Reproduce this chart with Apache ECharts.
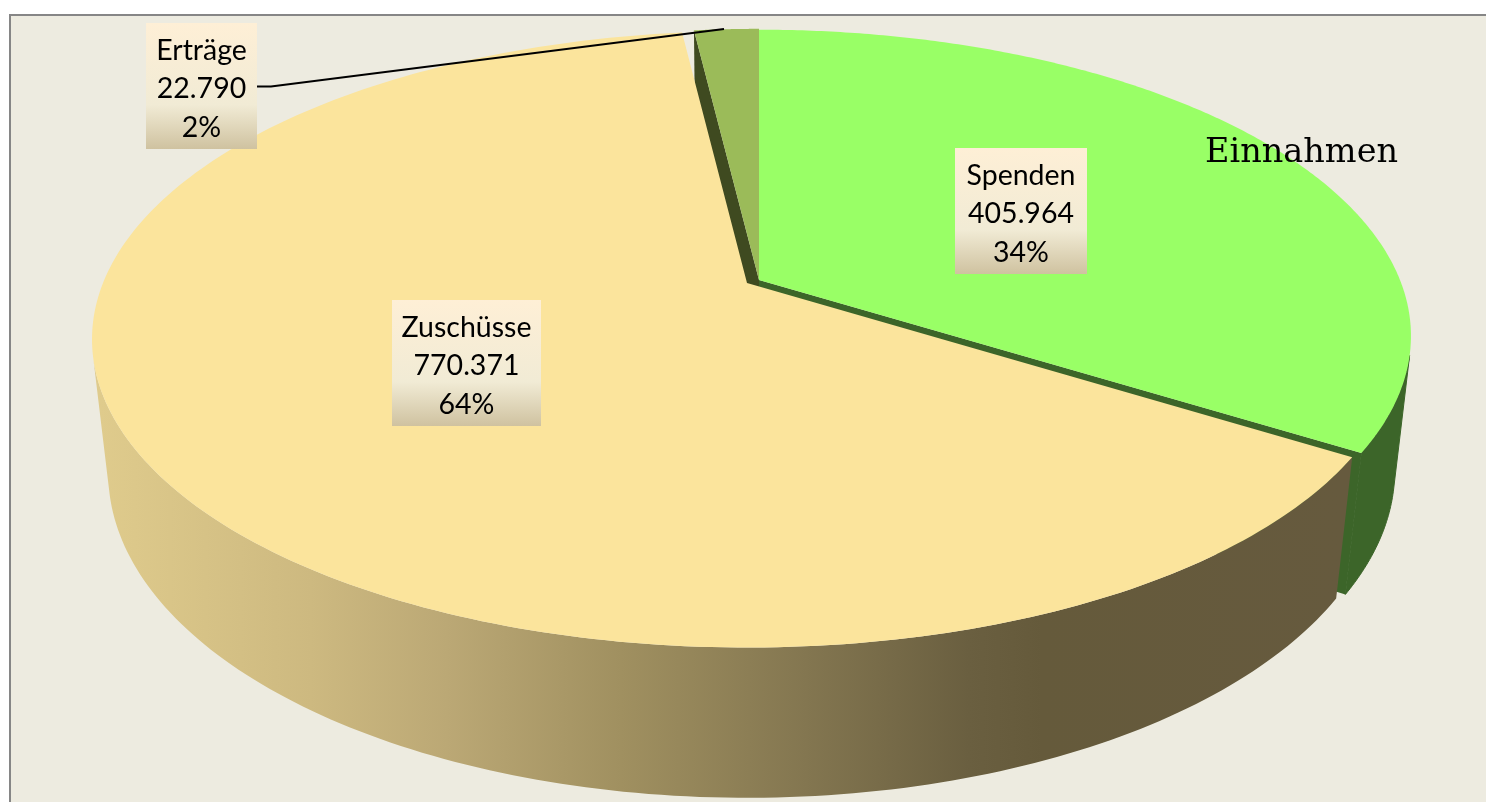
<!DOCTYPE html>
<html>
<head>
<meta charset="utf-8">
<style>html,body{margin:0;padding:0;background:#fff}#c{width:1486px;height:802px}</style>
<script src="https://cdn.jsdelivr.net/npm/echarts@6/dist/echarts.min.js"></script>
</head>
<body>
<div id="c"></div>
<script>
// ---- data ----
const categories = ['Spenden', 'Zuschüsse', 'Erträge'];
const seriesValues = [405964, 770371, 22790];
const titleText = 'Einnahmen';

// ---- styling / layout, by category order ----
const topColors = ['#99FF66', '#FBE49C', '#9BBB59'];
const wallColors = ['#3C6529', '#FBE49C', '#3F4A20'];
const apexes = [[759, 280], [747, 283], [759, 280]];
const radiiX = [641, 644, 645];
const radiiY = [296, 298, 297];
const labelBoxes = [[955, 148, 132, 126], [392, 300, 149, 126], [146, 23, 111, 126]];
const leaderPoints = [[257, 86.5], [271, 86.5], [724, 29]];
const K = 0.1825, E = 0.0246, H = 135.5;   // perspective and thickness
const LINE_H = 38.5;

const total = seriesValues.reduce((a, b) => a + b, 0);
const fmt = v => String(v).replace(/\B(?=(\d{3})+$)/g, '.');

function upperRim(i, t, r) {
  r = r === undefined ? 1 : r;
  const u = r * Math.sin(t), v = r * Math.cos(t), w = 1 + K * v;
  return [apexes[i][0] + radiiX[i] * u / w, apexes[i][1] - radiiY[i] * v / w];
}
function lowerRim(i, t, r) {
  r = r === undefined ? 1 : r;
  const u = r * Math.sin(t), v = r * Math.cos(t), w = 1 + K * v + E;
  return [apexes[i][0] + radiiX[i] * u / w, apexes[i][1] + (H - radiiY[i] * v) / w];
}
function sweep(fn, i, a, b) {
  const pts = [], n = 240;
  for (let s = 0; s <= n; s++) pts.push(fn(i, a + (b - a) * s / n));
  return pts;
}
function frontArc(i, a, b) {           // front-facing part of the rim
  const n = 240, ts = [];
  for (let s = 0; s <= n; s++) {
    const t = a + (b - a) * s / n, d = 0.001;
    const p0 = upperRim(i, t - d), p1 = upperRim(i, t + d), q = lowerRim(i, t), p = upperRim(i, t);
    const cross = (p1[0] - p0[0]) * (q[1] - p[1]) - (p1[1] - p0[1]) * (q[0] - p[0]);
    if (cross < 0) ts.push(t);
  }
  if (ts.length < 2) return null;
  return ts.map(t => upperRim(i, t)).concat(ts.slice().reverse().map(t => lowerRim(i, t)));
}
const sideFill = {
  type: 'linear', x: 100, y: 0, x2: 1340, y2: 0, global: true,
  colorStops: [
    { offset: 0, color: '#DFCB8C' },
    { offset: 0.17, color: '#CDB980' },
    { offset: 0.28, color: '#BBA875' },
    { offset: 0.42, color: '#A09060' },
    { offset: 0.57, color: '#837650' },
    { offset: 0.70, color: '#6A5F40' },
    { offset: 0.76, color: '#655A3B' },
    { offset: 1, color: '#665A3E' }
  ]
};
const labelFill = {
  type: 'linear', x: 0, y: 0, x2: 0, y2: 1,
  colorStops: [
    { offset: 0, color: '#FEEFD6' },
    { offset: 0.65, color: '#F1EBD5' },
    { offset: 1, color: '#CFC2A0' }
  ]
};
// drawing depth of each slice
const depth = [1, 20, 10];

function renderItem(params, api) {
  const i = params.dataIndex;
  let before = 0;
  for (let j = 0; j < i; j++) before += seriesValues[j];
  const value = api.value(0);
  const a = before / total * 2 * Math.PI, b = (before + value) / total * 2 * Math.PI;
  const children = [];
  const d = depth[i];
  const poly = (points, fill, z2, seam) => ({
    type: 'polygon', z2: z2, shape: { points: points },
    style: { fill: fill, stroke: seam || null, lineWidth: seam ? 1 : 0 }
  });
  // end wall (cut face)
  const cut = i === 2 ? a : b;
  const wall = [upperRim(i, 0, 0), upperRim(i, cut), lowerRim(i, cut), lowerRim(i, 0, 0)];
  if (i !== 1) children.push(poly(wall, wallColors[i], d));
  // outer side
  const side = frontArc(i, a, b);
  if (side) children.push(i === 1 ? poly(side, sideFill, d + 1) : poly(side, wallColors[i], d + 1, wallColors[i]));
  // upper face
  children.push(poly([upperRim(i, 0, 0)].concat(sweep(upperRim, i, a, b)), topColors[i], d + 2));
  // label
  const box = labelBoxes[i];
  children.push({
    type: 'rect', z2: 50,
    shape: { x: box[0], y: box[1], width: box[2], height: box[3] },
    style: { fill: labelFill }
  });
  const lines = [categories[i], fmt(value), Math.round(value / total * 100) + '%'];
  lines.forEach((txt, n) => children.push({
    type: 'text', z2: 51,
    style: {
      text: txt, x: box[0] + box[2] / 2, y: box[1] + 27.5 + n * LINE_H,
      align: 'center', verticalAlign: 'middle',
      font: '400 28.5px Lato', fill: '#000'
    }
  }));
  if (i === 2) {
    children.push({
      type: 'polyline', z2: 60, shape: { points: leaderPoints },
      style: { stroke: '#000', lineWidth: 2, fill: null }
    });
  }
  return { type: 'group', children: children };
}

const chart = echarts.init(document.getElementById('c'), null, { renderer: 'canvas' });
chart.setOption({
  animation: false,
  backgroundColor: '#fff',
  title: {
    text: titleText, left: 1200, top: 131, z: 20,
    textStyle: { fontFamily: 'DejaVu Serif', fontWeight: 400, fontSize: 33.5, color: '#000' }
  },
  graphic: [{
    type: 'rect', z: -10,
    shape: { x: 10, y: 15, width: 1600, height: 900 },
    style: { fill: '#EDEBE0', stroke: '#868686', lineWidth: 2 }
  }],
  series: [{
    type: 'custom', coordinateSystem: 'none', silent: true, z: 5,
    renderItem: renderItem,
    data: seriesValues.map((v, i) => ({ name: categories[i], value: [v] }))
  }]
});
</script>
</body>
</html>
